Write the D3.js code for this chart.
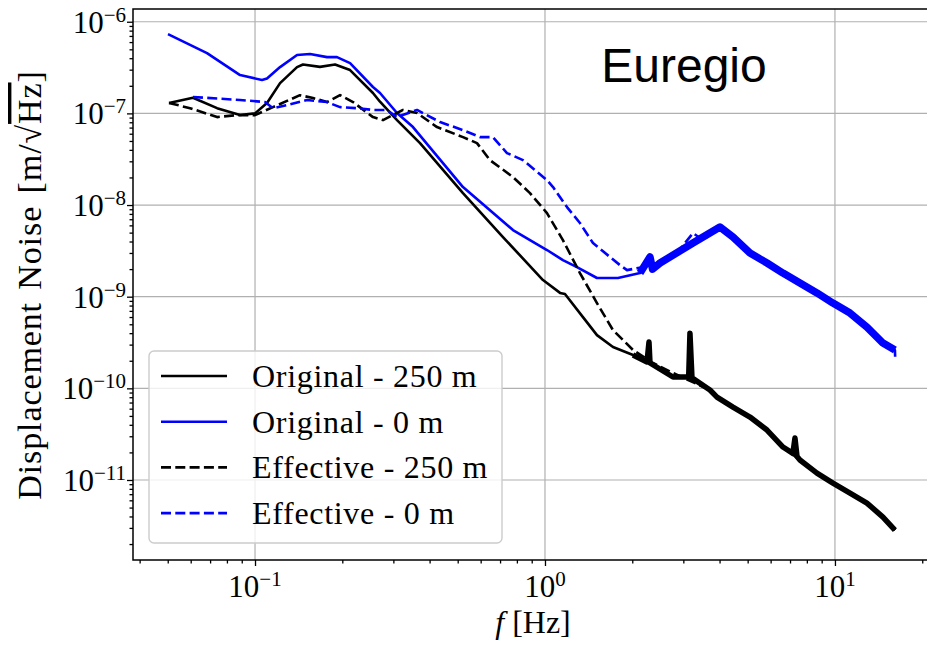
<!DOCTYPE html>
<html>
<head>
<meta charset="utf-8">
<script src="https://cdn.jsdelivr.net/npm/d3@7"></script>
<style>
  body { margin: 0; background: #fff; }
  svg { display: block; font-family: "Liberation Serif", "DejaVu Serif", serif; }
</style>
</head>
<body>
<svg id="chart" width="927" height="646"></svg>
<script>
// values: frequency [Hz] and ASD [m/sqrt(Hz)]
const orig250Freq = [0.0505, 0.0611, 0.0740, 0.0888, 0.1, 0.1100, 0.1220, 0.1396, 0.1464, 0.1675, 0.1888, 0.2127, 0.2551, 0.2698, 0.3088, 0.3707, 0.5214, 0.7164, 0.9842, 1.127, 1.172, 1.352, 1.511, 1.716, 2.012, 2.248, 2.284, 2.302, 2.763, 3.13, 3.162, 3.213, 3.707, 3.918, 4.449, 5.093, 5.830, 6.618, 7.16, 7.279, 7.40, 7.573, 8.668, 9.842, 11.27, 12.89, 14.64, 16.1];
const orig250Asd  = [1.30e-7, 1.48e-7, 1.14e-7, 9.6e-8, 1.0e-7, 1.30e-7, 2.14e-7, 3.20e-7, 3.42e-7, 3.22e-7, 3.42e-7, 2.97e-7, 1.67e-7, 1.34e-7, 8.45e-8, 4.74e-8, 1.35e-8, 4.47e-9, 1.52e-9, 1.10e-9, 1.07e-9, 5.99e-10, 3.81e-10, 2.82e-10, 2.31e-10, 1.94e-10, 3.2e-10, 1.89e-10, 1.33e-10, 1.33e-10, 4.0e-10, 1.30e-10, 9.58e-11, 8.03e-11, 6.25e-11, 4.86e-11, 3.51e-11, 2.29e-11, 1.95e-11, 2.87e-11, 1.80e-11, 1.65e-11, 1.19e-11, 9.26e-12, 7.20e-12, 5.60e-12, 3.94e-12, 2.84e-12];

const orig0Freq = [0.0501, 0.0683, 0.0888, 0.1057, 0.1100, 0.1220, 0.1396, 0.1548, 0.1771, 0.1917, 0.2127, 0.2551, 0.2698, 0.3088, 0.3506, 0.5214, 0.7756, 1.016, 1.153, 1.289, 1.511, 1.785, 2.127, 2.302, 2.35, 2.493, 3.238, 4.012, 4.449, 5.093, 5.830, 6.618, 7.573, 8.668, 9.842, 11.27, 12.89, 14.64, 16.1];
const orig0Asd  = [7.33e-7, 4.55e-7, 2.62e-7, 2.31e-7, 2.40e-7, 3.20e-7, 4.33e-7, 4.44e-7, 4.11e-7, 4.11e-7, 3.54e-7, 1.94e-7, 1.67e-7, 1.01e-7, 7.09e-8, 1.57e-8, 5.33e-9, 3.23e-9, 2.51e-9, 2.10e-9, 1.60e-9, 1.60e-9, 1.81e-9, 2.71e-9, 2.0e-9, 2.33e-9, 3.85e-9, 5.75e-9, 4.47e-9, 2.99e-9, 2.33e-9, 1.81e-9, 1.41e-9, 1.10e-9, 8.52e-10, 6.63e-10, 4.66e-10, 3.12e-10, 2.62e-10];

const eff250Freq = [0.0505, 0.0597, 0.0740, 0.0867, 0.1, 0.1153, 0.1429, 0.1585, 0.1771, 0.1964, 0.2178, 0.2551, 0.2763, 0.3238, 0.3620, 0.4242, 0.5214, 0.5827, 0.6460, 0.7756, 0.8877, 1.016, 1.153, 1.320, 1.511, 1.716, 2.012, 2.357, 2.763, 3.707, 3.918, 4.449, 5.093, 5.830, 6.618, 7.573, 8.668, 9.842, 11.27, 12.89, 14.64, 16.1];
const eff250Asd  = [1.30e-7, 1.14e-7, 9.11e-8, 9.58e-8, 9.58e-8, 1.17e-7, 1.58e-7, 1.47e-7, 1.33e-7, 1.58e-7, 1.33e-7, 9.11e-8, 8.45e-8, 1.09e-7, 1.01e-7, 7.09e-8, 5.51e-8, 4.74e-8, 3.09e-8, 2.02e-8, 1.35e-8, 8.17e-9, 4.15e-9, 1.81e-9, 8.52e-10, 4.32e-10, 2.62e-10, 1.89e-10, 1.47e-10, 9.58e-11, 8.03e-11, 6.25e-11, 4.86e-11, 3.51e-11, 2.29e-11, 1.65e-11, 1.19e-11, 9.26e-12, 7.20e-12, 5.60e-12, 3.94e-12, 2.84e-12];

const eff0Freq = [0.0611, 0.0888, 0.1083, 0.1153, 0.1289, 0.1511, 0.1771, 0.1964, 0.2248, 0.2551, 0.2852, 0.3088, 0.3620, 0.4346, 0.5214, 0.5970, 0.6617, 0.7396, 0.8397, 1.016, 1.066, 1.191, 1.320, 1.464, 1.675, 1.814, 1.918, 2.177, 2.493, 2.852, 3.238, 3.506, 4.012, 4.449, 5.093, 5.830, 6.618, 7.573, 8.668, 9.842, 11.27, 12.89, 14.64, 16.1, 16.15];
const eff0Asd  = [1.51e-7, 1.40e-7, 1.33e-7, 1.14e-7, 1.23e-7, 1.40e-7, 1.33e-7, 1.17e-7, 1.14e-7, 1.09e-7, 1.09e-7, 9.11e-8, 1.09e-7, 8.04e-8, 6.57e-8, 5.51e-8, 5.51e-8, 3.69e-8, 3.09e-8, 1.87e-8, 1.57e-8, 9.50e-9, 6.36e-9, 3.85e-9, 2.71e-9, 2.21e-9, 1.95e-9, 2.10e-9, 2.33e-9, 2.99e-9, 4.94e-9, 4.15e-9, 5.75e-9, 4.47e-9, 2.99e-9, 2.33e-9, 1.81e-9, 1.41e-9, 1.10e-9, 8.52e-10, 6.63e-10, 4.66e-10, 3.12e-10, 2.62e-10, 2.0e-10];

const seriesNames = ["Original - 250 m", "Original - 0 m", "Effective - 250 m", "Effective - 0 m"];
const xTickValues = [0.1, 1, 10];
const xTickExps = ["\u22121", "0", "1"];
const yTickValues = [1e-11, 1e-10, 1e-9, 1e-8, 1e-7, 1e-6];
const yTickExps = ["\u221211", "\u221210", "\u22129", "\u22128", "\u22127", "\u22126"];

const series = [
  { name: seriesNames[0], pts: d3.zip(orig250Freq, orig250Asd), color: "#000000", dash: null, noisyFrom: 2.0, noisyWidth: 5.5 },
  { name: seriesNames[1], pts: d3.zip(orig0Freq, orig0Asd), color: "#0000ff", dash: null, noisyFrom: 1.9, noisyWidth: 7.5 },
  { name: seriesNames[2], pts: d3.zip(eff250Freq, eff250Asd), color: "#000000", dash: "10,4.3", noisyFrom: null },
  { name: seriesNames[3], pts: d3.zip(eff0Freq, eff0Asd), color: "#0000ff", dash: "10,4.3", noisyFrom: null }
];

const svg = d3.select("#chart");
const width = Number(svg.attr("width"));
const height = Number(svg.attr("height"));
const margin = { top: 9, right: -3, bottom: 86, left: 133 };
const innerWidth = width - margin.left - margin.right;
const innerHeight = height - margin.top - margin.bottom;

const x = d3.scaleLog()
  .domain([Math.pow(10, -1.4208), Math.pow(10, 1.3278)])
  .range([0, innerWidth]);
const y = d3.scaleLog()
  .domain([Math.pow(10, -11.873), Math.pow(10, -5.861)])
  .range([innerHeight, 0]);

const g = svg.append("g").attr("transform", `translate(${margin.left},${margin.top})`);

// grid at major ticks
g.append("g").selectAll("line").data(xTickValues).enter().append("line")
  .attr("x1", d => x(d)).attr("x2", d => x(d)).attr("y1", 0).attr("y2", innerHeight)
  .attr("stroke", "#b0b0b0").attr("stroke-width", 1.2);
g.append("g").selectAll("line").data(yTickValues).enter().append("line")
  .attr("y1", d => y(d)).attr("y2", d => y(d)).attr("x1", 0).attr("x2", innerWidth)
  .attr("stroke", "#b0b0b0").attr("stroke-width", 1.2);

// curves
const line = d3.line().x(d => x(d[0])).y(d => y(d[1]));
series.forEach(s => {
  g.append("path").datum(s.pts)
    .attr("d", line)
    .attr("fill", "none")
    .attr("stroke", s.color)
    .attr("stroke-width", 2.6)
    .attr("stroke-linejoin", "round")
    .attr("stroke-dasharray", s.dash);
  if (s.noisyFrom) {
    // measured noise band above a few Hz: same data, wider stroke
    g.append("path").datum(s.pts.filter(p => p[0] >= s.noisyFrom))
      .attr("d", line)
      .attr("fill", "none")
      .attr("stroke", s.color)
      .attr("stroke-width", s.noisyWidth)
      .attr("stroke-linejoin", "round");
  }
});

// axes: major + minor ticks (labels drawn separately below)
const xMinor = x.ticks(30).filter(d => !xTickValues.some(m => Math.abs(m - d) < 1e-9));
const yMinor = y.ticks(60).filter(d => !yTickValues.some(m => Math.abs(m / d - 1) < 1e-6));
const clean = a => { a.select(".domain").remove(); a.selectAll("text").remove(); };

g.append("g").attr("transform", `translate(0,${innerHeight})`)
  .call(d3.axisBottom(x).tickValues(xTickValues).tickSize(6))
  .call(clean);
g.append("g").attr("transform", `translate(0,${innerHeight})`)
  .call(d3.axisBottom(x).tickValues(xMinor).tickSize(3.5))
  .call(clean);
g.append("g")
  .call(d3.axisLeft(y).tickValues(yTickValues).tickSize(6))
  .call(clean);
g.append("g")
  .call(d3.axisLeft(y).tickValues(yMinor).tickSize(3.5))
  .call(clean);
g.selectAll(".tick line").attr("stroke", "#000").attr("stroke-width", 1.3);

// spines
g.append("rect").attr("x", 0).attr("y", 0).attr("width", innerWidth).attr("height", innerHeight)
  .attr("fill", "none").attr("stroke", "#000").attr("stroke-width", 1.5);

// tick labels with superscripts
yTickValues.forEach((v, i) => {
  const t = g.append("text")
    .attr("x", -7).attr("y", y(v) + 11)
    .attr("text-anchor", "end")
    .style("font-size", "31px");
  t.append("tspan").text("10");
  t.append("tspan").attr("dy", -11).style("font-size", "21px").text(yTickExps[i]);
});
xTickValues.forEach((v, i) => {
  const t = g.append("text")
    .attr("x", x(v)).attr("y", innerHeight + 37)
    .attr("text-anchor", "middle")
    .style("font-size", "31px");
  t.append("tspan").text("10");
  t.append("tspan").attr("dy", -11).style("font-size", "21px").text(xTickExps[i]);
});

// axis labels
const xl = svg.append("text")
  .attr("x", 533).attr("y", 633)
  .attr("text-anchor", "middle")
  .style("font-size", "32px");
xl.append("tspan").style("font-style", "italic").text("f");
xl.append("tspan").text(" [Hz]");

const yl = svg.append("text")
  .attr("transform", "translate(41,285) rotate(-90)")
  .attr("text-anchor", "middle")
  .style("font-size", "34px")
  .style("letter-spacing", "0.9px")
  .style("word-spacing", "3px");
yl.append("tspan").text("Displacement Noise [m/\u221A");
yl.append("tspan").style("text-decoration", "overline").text("Hz");
yl.append("tspan").text("]");

// site label
g.append("text")
  .attr("x", 684 - margin.left).attr("y", 82 - margin.top)
  .attr("text-anchor", "middle")
  .style("font-family", "'Liberation Sans', Arial, sans-serif")
  .style("font-size", "48px")
  .text("Euregio");

// legend
const legend = svg.append("g").attr("transform", "translate(149,351)");
legend.append("rect")
  .attr("width", 353).attr("height", 192).attr("rx", 5)
  .attr("fill", "#fff").attr("fill-opacity", 0.8)
  .attr("stroke", "#cccccc").attr("stroke-width", 1.4);
const rows = legend.selectAll("g.row").data(series).enter().append("g")
  .attr("class", "row")
  .attr("transform", (d, i) => `translate(0,${25 + i * 45.7})`);
rows.append("line")
  .attr("x1", 12).attr("x2", 78)
  .attr("stroke", d => d.color).attr("stroke-width", 2.6)
  .attr("stroke-dasharray", d => d.dash);
rows.append("text")
  .attr("x", 103).attr("y", 11)
  .style("font-size", "32px")
  .style("letter-spacing", "0.7px")
  .text(d => d.name);
</script>
</body>
</html>
